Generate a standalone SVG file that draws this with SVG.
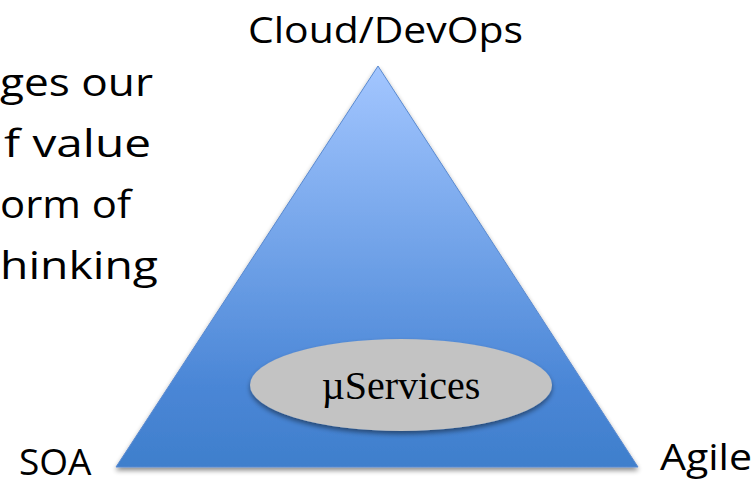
<svg xmlns="http://www.w3.org/2000/svg" width="756" height="485" viewBox="0 0 756 485">
  <defs>
    <linearGradient id="triFill" x1="0" y1="0" x2="0" y2="1">
      <stop offset="0" stop-color="#a3c6ff"/>
      <stop offset="0.5" stop-color="#6c9fe6"/>
      <stop offset="0.8" stop-color="#4a86d6"/>
      <stop offset="1" stop-color="#3f7fcc"/>
    </linearGradient>
    <filter id="shadow" x="-5%" y="-5%" width="110%" height="115%">
      <feGaussianBlur in="SourceAlpha" stdDeviation="2.5"/>
      <feOffset dx="0" dy="3" result="b"/>
      <feComponentTransfer><feFuncA type="linear" slope="0.45"/></feComponentTransfer>
      <feMerge><feMergeNode/><feMergeNode in="SourceGraphic"/></feMerge>
    </filter>
    <style>
      .lbl { font-family: "Open Sans", Lato, "Liberation Sans", sans-serif; font-size: 37px; fill: #000; }
      .body { font-family: "Open Sans", Lato, "Liberation Sans", sans-serif; font-size: 38px; fill: #000; }
      .svc { font-family: "Liberation Serif", serif; font-size: 40px; fill: #000; }
    </style>
  </defs>
  <rect width="756" height="485" fill="#fff"/>

  <!-- body text, left-hand column -->
  <g id="caption">
    <text class="body" x="0" y="96" textLength="153" lengthAdjust="spacingAndGlyphs">ges our</text>
    <text class="body" x="4" y="157" textLength="147" lengthAdjust="spacingAndGlyphs">f value</text>
    <text class="body" x="0" y="218" textLength="131" lengthAdjust="spacingAndGlyphs">orm of</text>
    <text class="body" x="0" y="279" textLength="158" lengthAdjust="spacingAndGlyphs">hinking</text>
  </g>

  <g id="triangle">
    <polygon points="378,66 638,467 116,467" fill="url(#triFill)" stroke="#5a8ad0" stroke-width="1" filter="url(#shadow)"/>
  </g>

  <g id="microservices">
    <ellipse cx="401" cy="385" rx="151" ry="46" fill="#c3c3c3" filter="url(#shadow)"/>
    <text class="svc" x="401" y="399" text-anchor="middle">µServices</text>
  </g>

  <g id="cloud-devops">
    <text class="lbl" x="248" y="43" textLength="275" lengthAdjust="spacingAndGlyphs">Cloud/DevOps</text>
  </g>
  <g id="soa">
    <text class="lbl" x="19" y="475" font-size="36">SOA</text>
  </g>
  <g id="agile">
    <text class="lbl" x="660" y="470" textLength="92" lengthAdjust="spacingAndGlyphs">Agile</text>
  </g>

  <g id="connectors"/>
</svg>
